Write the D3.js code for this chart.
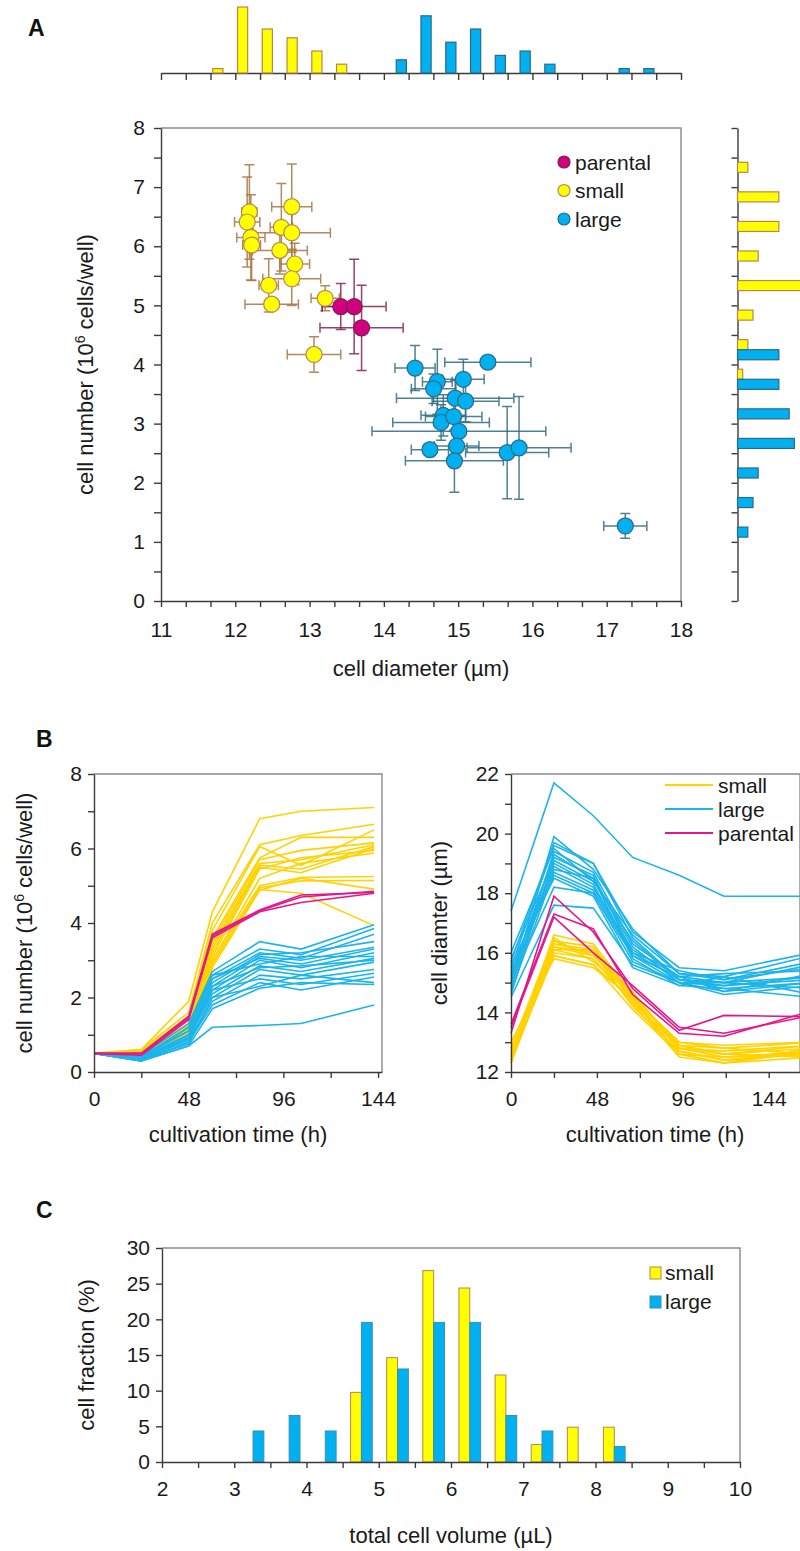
<!DOCTYPE html>
<html>
<head>
<meta charset="utf-8">
<script src="https://cdn.jsdelivr.net/npm/d3@7"></script>
<style>
  body { margin: 0; background: #fff; }
</style>
</head>
<body>
<div id="chart"></div>
<script>
// ---------------- data: panel A scatter (mean +/- sd) ----------------
const parentalDiam    = [13.42, 13.60, 13.70];
const parentalNum     = [4.98, 4.98, 4.62];
const parentalDiamErr = [0.25, 0.43, 0.56];
const parentalNumErr  = [0.39, 0.80, 0.72];

const smallDiam    = [12.19, 12.16, 12.21, 12.22, 12.76, 12.62, 12.76, 12.60, 12.80, 12.76, 12.45, 12.49, 13.21, 13.06];
const smallNum     = [6.58, 6.41, 6.15, 6.02, 6.67, 6.32, 6.23, 5.93, 5.70, 5.45, 5.34, 5.02, 5.12, 4.17];
const smallDiamErr = [0.10, 0.17, 0.19, 0.12, 0.27, 0.15, 0.52, 0.37, 0.20, 0.39, 0.13, 0.36, 0.19, 0.36];
const smallNumErr  = [0.80, 0.76, 0.72, 0.60, 0.72, 0.74, 0.50, 0.40, 0.35, 0.45, 0.45, 0.10, 0.21, 0.30];

const largeDiam    = [14.42, 15.40, 14.72, 14.67, 15.07, 14.96, 15.10, 14.80, 14.77, 14.94, 15.01, 14.62, 14.98, 14.95, 15.66, 15.82, 17.25];
const largeNum     = [3.94, 4.04, 3.71, 3.59, 3.75, 3.43, 3.38, 3.14, 3.02, 3.12, 2.87, 2.56, 2.62, 2.37, 2.51, 2.59, 1.27];
const largeDiamErr = [0.27, 0.58, 0.20, 0.30, 0.28, 0.79, 0.45, 0.30, 0.65, 0.38, 1.17, 0.25, 0.30, 0.66, 0.56, 0.70, 0.29];
const largeNumErr  = [0.38, 0.10, 0.55, 0.25, 0.34, 0.30, 0.35, 0.35, 0.30, 0.25, 0.25, 0.10, 0.30, 0.53, 0.78, 0.87, 0.21];

// marginal histograms (counts); bins are 1/3 um and 0.5 x10^6 cells wide
const smallDiamBins   = [11.667, 12.0, 12.333, 12.667, 13.0, 13.333];
const smallDiamCounts = [1, 15, 10, 8, 5, 2];
const largeDiamBins   = [14.0, 14.333, 14.667, 15.0, 15.333, 15.667, 16.0, 17.0, 17.333];
const largeDiamCounts = [3, 13, 7, 10, 4, 5, 2, 1, 1];

const smallNumBins   = [7.0, 6.5, 6.0, 5.5, 5.0, 4.5, 4.0, 3.5];
const smallNumCounts = [2, 8, 8, 4, 13, 3, 2, 1];
const largeNumBins   = [4.0, 3.5, 3.0, 2.5, 2.0, 1.5, 1.0];
const largeNumCounts = [8, 8, 10, 11, 4, 3, 2];

// ---------------- data: panel B growth curves ----------------
const timeCount = [0, 24, 48, 60, 84, 105, 142];
const smallCount = [
  [0.5, 0.60, 1.90, 4.30, 6.80, 7.00, 7.10],
  [0.5, 0.60, 1.60, 4.00, 6.10, 6.35, 6.65],
  [0.5, 0.55, 1.50, 3.80, 6.05, 5.55, 6.50],
  [0.5, 0.55, 1.40, 3.60, 5.75, 6.30, 6.30],
  [0.5, 0.50, 1.30, 3.50, 5.70, 5.95, 6.15],
  [0.5, 0.50, 1.30, 3.40, 5.60, 5.70, 6.10],
  [0.5, 0.50, 1.20, 3.30, 5.55, 5.45, 6.05],
  [0.5, 0.55, 1.25, 3.20, 5.50, 5.35, 6.00],
  [0.5, 0.50, 1.20, 3.10, 5.45, 5.75, 5.95],
  [0.5, 0.50, 1.15, 3.00, 5.20, 5.60, 5.88],
  [0.5, 0.50, 1.10, 3.00, 5.00, 5.22, 5.25],
  [0.5, 0.45, 1.10, 2.90, 4.95, 5.13, 5.14],
  [0.5, 0.50, 1.00, 2.80, 4.88, 5.20, 4.91],
  [0.5, 0.50, 1.05, 2.90, 4.90, 4.80, 3.93]
];
const largeCount = [
  [0.5, 0.45, 1.30, 2.70, 3.50, 3.30, 3.95],
  [0.5, 0.40, 1.20, 2.60, 3.30, 3.15, 3.85],
  [0.5, 0.45, 1.10, 2.50, 3.20, 3.05, 3.70],
  [0.5, 0.40, 1.00, 2.40, 3.15, 3.20, 3.50],
  [0.5, 0.35, 1.00, 2.30, 3.10, 3.00, 3.35],
  [0.5, 0.40, 1.10, 2.50, 3.05, 2.90, 3.30],
  [0.5, 0.35, 0.90, 2.20, 3.00, 2.80, 3.20],
  [0.5, 0.40, 1.20, 2.60, 2.90, 3.10, 3.10],
  [0.5, 0.35, 0.90, 2.10, 2.85, 2.70, 3.05],
  [0.5, 0.40, 0.95, 2.30, 2.80, 2.85, 3.00],
  [0.5, 0.30, 0.80, 2.00, 2.75, 2.60, 2.95],
  [0.5, 0.35, 0.85, 1.90, 2.60, 2.50, 2.75],
  [0.5, 0.40, 0.90, 2.20, 2.50, 2.35, 2.65],
  [0.5, 0.30, 0.80, 1.80, 2.40, 2.20, 2.55],
  [0.5, 0.35, 0.75, 2.00, 2.30, 2.60, 2.40],
  [0.5, 0.30, 0.70, 1.70, 2.25, 2.40, 2.35],
  [0.5, 0.30, 0.70, 1.20, 1.25, 1.30, 1.80]
];
const parentalCount = [
  [0.5, 0.50, 1.50, 3.70, 4.35, 4.75, 4.82],
  [0.5, 0.45, 1.40, 3.60, 4.30, 4.55, 4.80],
  [0.5, 0.50, 1.45, 3.65, 4.33, 4.70, 4.85]
];

const timeDiam = [0, 24, 46, 68, 94, 119, 168];
const smallDiamLines = [
  [12.4, 16.6, 16.3, 14.6, 12.9, 12.6, 12.9],
  [12.5, 16.4, 16.2, 14.5, 13.0, 12.8, 13.0],
  [12.6, 16.3, 16.0, 14.4, 12.8, 12.5, 12.7],
  [12.3, 16.2, 15.9, 14.7, 12.7, 12.4, 12.6],
  [12.7, 16.1, 16.1, 14.5, 12.6, 12.3, 12.8],
  [12.4, 16.0, 15.8, 14.3, 12.9, 12.6, 12.5],
  [12.8, 16.5, 15.7, 14.6, 12.8, 12.7, 12.9],
  [12.5, 15.9, 15.6, 14.4, 12.6, 12.5, 12.6],
  [12.6, 16.2, 16.0, 14.2, 12.7, 12.4, 12.7],
  [13.0, 15.8, 15.5, 14.5, 13.0, 12.9, 13.0],
  [12.3, 16.1, 15.8, 14.3, 12.5, 12.3, 12.5],
  [12.6, 16.4, 15.9, 14.6, 12.8, 12.6, 12.8],
  [12.5, 16.3, 16.1, 14.5, 12.9, 12.8, 12.6],
  [12.4, 15.9, 15.6, 14.1, 12.6, 12.3, 12.7]
];
const largeDiamLines = [
  [17.4, 21.7, 20.6, 19.2, 18.6, 17.9, 17.9],
  [15.0, 19.9, 18.8, 16.8, 15.3, 15.2, 15.9],
  [15.5, 19.6, 19.0, 16.5, 15.1, 15.0, 15.6],
  [14.8, 19.4, 18.7, 16.3, 15.2, 15.3, 15.4],
  [15.2, 19.3, 18.5, 16.2, 15.0, 14.9, 15.2],
  [14.6, 19.2, 18.6, 16.0, 15.4, 15.1, 15.5],
  [15.8, 19.1, 18.4, 16.4, 15.1, 14.8, 15.0],
  [14.9, 19.0, 18.3, 15.9, 15.0, 15.0, 14.8],
  [15.4, 18.9, 18.2, 16.1, 15.2, 14.7, 15.3],
  [15.1, 18.8, 18.5, 15.8, 14.9, 15.2, 14.6],
  [14.7, 18.7, 18.1, 16.0, 15.1, 14.9, 15.1],
  [15.3, 18.6, 18.0, 15.7, 15.0, 14.6, 14.9],
  [16.0, 19.5, 18.4, 16.6, 15.3, 15.1, 15.7],
  [15.6, 18.5, 17.9, 15.5, 14.9, 14.8, 14.5],
  [14.5, 17.6, 17.5, 15.6, 15.0, 14.7, 15.0],
  [15.0, 18.2, 18.0, 15.9, 15.2, 15.0, 15.2],
  [15.7, 19.7, 19.0, 16.7, 15.5, 15.4, 16.0]
];
const parentalDiamLines = [
  [13.3, 17.9, 16.7, 14.8, 13.4, 13.9, 13.85],
  [13.6, 17.3, 16.8, 14.6, 13.3, 13.2, 14.05],
  [13.5, 17.2, 16.0, 14.9, 13.5, 13.3, 13.9]
];

// ---------------- data: panel C volume distribution (%) ----------------
const volumeBins    = [3.25, 3.75, 4.25, 4.75, 5.25, 5.75, 6.25, 6.75, 7.25, 7.75, 8.25];
const smallFraction = [0, 0, 0, 9.76, 14.63, 26.83, 24.39, 12.20, 2.44, 4.88, 4.88];
const largeFraction = [4.35, 6.52, 4.35, 19.57, 13.04, 19.57, 19.57, 6.52, 4.35, 0, 2.17];

// tick labels
const aXTicks = [11, 12, 13, 14, 15, 16, 17, 18];
const aYTicks = [0, 1, 2, 3, 4, 5, 6, 7, 8];
const bTimeTicks = [0, 48, 96, 144];
const bCountTicks = [0, 2, 4, 6, 8];
const bDiamTicks = [12, 14, 16, 18, 20, 22];
const cXTicks = [2, 3, 4, 5, 6, 7, 8, 9, 10];
const cYTicks = [0, 5, 10, 15, 20, 25, 30];

// ---------------- styling ----------------
const FONT = "'Liberation Sans', Arial, Helvetica, sans-serif";
const AXIS = "#3b3b3b";
const FRAME = "#8a8a8a";
const C_SMALL = "#ffff00", S_SMALL = "#b8864b";
const C_LARGE = "#00b0f0", S_LARGE = "#2a6a86";
const C_PAR = "#d1007f", S_PAR = "#7d1d52";
const L_SMALL = "#ffd200", L_LARGE = "#1cb4ea", L_PAR = "#e3168b";

const svg = d3.select("#chart")
    .append("svg")
    .attr("width", 800)
    .attr("height", 1551)
    .style("font-family", FONT);

function styleAxis(g, size) {
    g.attr("font-family", null).attr("font-size", null);
    g.select(".domain").attr("stroke", AXIS).attr("stroke-width", 1.4);
    g.selectAll(".tick line").attr("stroke", AXIS).attr("stroke-width", 1.4);
    g.selectAll(".tick text").attr("fill", "#1a1a1a")
        .style("font-size", size + "px").style("font-family", FONT);
}
const isLabel = list => d => list.some(v => Math.abs(v - d) < 1e-6) ? d : "";

function frame(x0, x1, y0, y1) {
    svg.append("path")
        .attr("d", `M${x0},${y0}H${x1}V${y1}`)
        .attr("fill", "none").attr("stroke", FRAME).attr("stroke-width", 1.4);
}

function panelLabel(t, x, y) {
    svg.append("text").attr("x", x).attr("y", y).text(t)
        .style("font-size", "23px").style("font-weight", "bold").attr("fill", "#111");
}

function yTitle(x, y, parts) {
    const t = svg.append("text")
        .attr("transform", `translate(${x},${y}) rotate(-90)`)
        .attr("text-anchor", "middle")
        .style("font-size", "22px").attr("fill", "#1a1a1a");
    parts.forEach(p => {
        const s = t.append("tspan").text(p.t);
        if (p.sup) s.style("font-size", "14px").attr("dy", -8);
        if (p.back) s.attr("dy", 8);
    });
}

function xTitle(x, y, txt) {
    svg.append("text").attr("x", x).attr("y", y).attr("text-anchor", "middle")
        .style("font-size", "22px").attr("fill", "#1a1a1a").text(txt);
}

// ================= PANEL A =================
panelLabel("A", 28, 36);

const xA = d3.scaleLinear().domain([11, 18]).range([161, 681]);
const yA = d3.scaleLinear().domain([0, 8]).range([601, 128]);

frame(xA(11), xA(18), yA(8), yA(0));

const thirdTicks = d3.range(0, 22).map(i => 11 + i / 3);
const halfTicks = d3.range(0, 17).map(i => i / 2);

svg.append("g").attr("transform", `translate(0,${yA(0)})`)
    .call(d3.axisBottom(xA).tickValues(thirdTicks).tickFormat(isLabel(aXTicks))
        .tickSize(6).tickSizeOuter(0).tickPadding(15))
    .call(g => styleAxis(g, 21));

svg.append("g").attr("transform", `translate(${xA(11)},0)`)
    .call(d3.axisLeft(yA).tickValues(halfTicks).tickFormat(isLabel(aYTicks))
        .tickSize(7).tickSizeOuter(0).tickPadding(9))
    .call(g => styleAxis(g, 21));

yTitle(93, (yA(0) + yA(8)) / 2, [
    { t: "cell number (10" }, { t: "6", sup: true }, { t: " cells/well)", back: true }
]);
xTitle((xA(11) + xA(18)) / 2, 676, "cell diameter (µm)");

// top marginal histogram
const binW = 1 / 3;
const yTop = d3.scaleLinear().domain([0, 15]).range([73, 7]);
svg.append("g").attr("transform", `translate(0,${yTop(0)})`)
    .call(d3.axisBottom(xA).tickValues(thirdTicks).tickFormat("").tickSize(7).tickSizeOuter(0))
    .call(g => styleAxis(g, 21));

function topBars(bins, counts, off, fill, stroke) {
    svg.append("g").selectAll("rect")
        .data(bins.map((b, i) => ({ b, c: counts[i] })))
        .join("rect")
        .attr("x", d => xA(d.b + off * binW))
        .attr("width", xA(11 + 0.41 * binW) - xA(11))
        .attr("y", d => yTop(d.c))
        .attr("height", d => yTop(0) - yTop(d.c))
        .attr("fill", fill).attr("stroke", stroke).attr("stroke-width", 1.2);
}
topBars(smallDiamBins, smallDiamCounts, 0.09, C_SMALL, S_SMALL);
topBars(largeDiamBins, largeDiamCounts, 0.50, C_LARGE, S_LARGE);

// right marginal histogram
const xRight = d3.scaleLinear().domain([0, 10]).range([737.5, 789.2]);
svg.append("g").attr("transform", `translate(${xRight(0)},0)`)
    .call(d3.axisLeft(yA).tickValues(halfTicks).tickFormat("").tickSize(6).tickSizeOuter(0))
    .call(g => styleAxis(g, 21));

function rightBars(bins, counts, off, fill, stroke) {
    const h = yA(0) - yA(0.5);
    svg.append("g").selectAll("rect")
        .data(bins.map((b, i) => ({ b, c: counts[i] })))
        .join("rect")
        .attr("x", xRight(0))
        .attr("y", d => yA(d.b + 0.5) + off * h)
        .attr("height", 0.34 * h)
        .attr("width", d => xRight(d.c) - xRight(0))
        .attr("fill", fill).attr("stroke", stroke).attr("stroke-width", 1.2);
}
rightBars(smallNumBins, smallNumCounts, 0.16, C_SMALL, S_SMALL);
rightBars(largeNumBins, largeNumCounts, 0.50, C_LARGE, S_LARGE);

// scatter with error bars
const groups = [
    { x: smallDiam, y: smallNum, ex: smallDiamErr, ey: smallNumErr, fill: C_SMALL, stroke: S_SMALL, err: "#a87442" },
    { x: largeDiam, y: largeNum, ex: largeDiamErr, ey: largeNumErr, fill: C_LARGE, stroke: S_LARGE, err: "#2f6b80" },
    { x: parentalDiam, y: parentalNum, ex: parentalDiamErr, ey: parentalNumErr, fill: C_PAR, stroke: S_PAR, err: "#82224f" }
];
const cap = 5;
groups.forEach(gr => {
    const pts = gr.x.map((x, i) => ({ x, y: gr.y[i], ex: gr.ex[i], ey: gr.ey[i] }));
    const eg = svg.append("g").attr("stroke", gr.err).attr("stroke-width", 1.5)
        .attr("fill", "none").attr("stroke-opacity", 0.85);
    eg.selectAll("path").data(pts).join("path")
        .attr("d", d => {
            const cx = xA(d.x), cy = yA(d.y);
            const x0 = xA(d.x - d.ex), x1 = xA(d.x + d.ex);
            const y0 = yA(d.y - d.ey), y1 = yA(d.y + d.ey);
            return `M${x0},${cy}H${x1}M${x0},${cy - cap}V${cy + cap}M${x1},${cy - cap}V${cy + cap}` +
                   `M${cx},${y0}V${y1}M${cx - cap},${y0}H${cx + cap}M${cx - cap},${y1}H${cx + cap}`;
        });
});
groups.forEach(gr => {
    svg.append("g").selectAll("circle")
        .data(gr.x.map((x, i) => ({ x, y: gr.y[i] })))
        .join("circle")
        .attr("cx", d => xA(d.x)).attr("cy", d => yA(d.y)).attr("r", 8)
        .attr("fill", gr.fill).attr("stroke", gr.stroke).attr("stroke-width", 1.2);
});

// legend A
const legA = [
    { t: "parental", fill: C_PAR, stroke: S_PAR },
    { t: "small", fill: C_SMALL, stroke: S_SMALL },
    { t: "large", fill: C_LARGE, stroke: S_LARGE }
];
legA.forEach((d, i) => {
    const y = 162 + i * 28.5;
    svg.append("circle").attr("cx", 564).attr("cy", y).attr("r", 6)
        .attr("fill", d.fill).attr("stroke", d.stroke).attr("stroke-width", 1.2);
    svg.append("text").attr("x", 575).attr("y", y + 7.5).text(d.t)
        .style("font-size", "21px").attr("fill", "#1a1a1a");
});

// ================= PANEL B =================
panelLabel("B", 36, 747);

const yB1 = d3.scaleLinear().domain([0, 8]).range([1072, 774]);
const yB2 = d3.scaleLinear().domain([12, 22]).range([1072, 774]);
const xB1 = d3.scaleLinear().domain([0, 146]).range([94, 382]);
const xB2 = d3.scaleLinear().domain([0, 161.5]).range([511, 800]);

frame(xB1(0), xB1(146), yB1(8), yB1(0));
frame(xB2(0), xB2(161.5), yB2(22), yB2(12));

function lines(xs, ys, times, data, color) {
    const line = d3.line().x((d, i) => xs(times[i])).y(d => ys(d));
    svg.append("g").selectAll("path").data(data).join("path")
        .attr("d", line).attr("fill", "none")
        .attr("stroke", color).attr("stroke-width", 1.6);
}
lines(xB1, yB1, timeCount, smallCount, L_SMALL);
lines(xB1, yB1, timeCount, largeCount, L_LARGE);
lines(xB1, yB1, timeCount, parentalCount, L_PAR);
lines(xB2, yB2, timeDiam, smallDiamLines, L_SMALL);
lines(xB2, yB2, timeDiam, largeDiamLines, L_LARGE);
lines(xB2, yB2, timeDiam, parentalDiamLines, L_PAR);

const dayTicks = [0, 24, 48, 72, 96, 120, 144];
svg.append("g").attr("transform", `translate(0,${yB1(0)})`)
    .call(d3.axisBottom(xB1).tickValues(dayTicks).tickFormat(isLabel(bTimeTicks))
        .tickSize(6).tickSizeOuter(0).tickPadding(13))
    .call(g => styleAxis(g, 21));
svg.append("g").attr("transform", `translate(${xB1(0)},0)`)
    .call(d3.axisLeft(yB1).tickValues(d3.range(0, 9)).tickFormat(isLabel(bCountTicks))
        .tickSize(6).tickSizeOuter(0).tickPadding(6))
    .call(g => styleAxis(g, 21));

svg.append("g").attr("transform", `translate(0,${yB2(12)})`)
    .call(d3.axisBottom(xB2).tickValues(dayTicks).tickFormat(isLabel(bTimeTicks))
        .tickSize(6).tickSizeOuter(0).tickPadding(13))
    .call(g => styleAxis(g, 21));
svg.append("g").attr("transform", `translate(${xB2(0)},0)`)
    .call(d3.axisLeft(yB2).tickValues(d3.range(12, 23)).tickFormat(isLabel(bDiamTicks))
        .tickSize(6).tickSizeOuter(0).tickPadding(6))
    .call(g => styleAxis(g, 21));

yTitle(32, (yB1(0) + yB1(8)) / 2, [
    { t: "cell number (10" }, { t: "6", sup: true }, { t: " cells/well)", back: true }
]);
yTitle(447, (yB2(12) + yB2(22)) / 2, [{ t: "cell diamter (µm)" }]);
xTitle((xB1(0) + xB1(146)) / 2, 1142, "cultivation time (h)");
xTitle(655, 1142, "cultivation time (h)");

// legend B
const legB = [
    { t: "small", c: L_SMALL }, { t: "large", c: L_LARGE }, { t: "parental", c: L_PAR }
];
legB.forEach((d, i) => {
    const y = 785 + i * 24;
    svg.append("line").attr("x1", 665).attr("x2", 713).attr("y1", y).attr("y2", y)
        .attr("stroke", d.c).attr("stroke-width", 1.8);
    svg.append("text").attr("x", 718).attr("y", y + 7.5).text(d.t)
        .style("font-size", "21px").attr("fill", "#1a1a1a");
});

// ================= PANEL C =================
panelLabel("C", 36, 1218);

const xC = d3.scaleLinear().domain([2, 10]).range([162, 740]);
const yC = d3.scaleLinear().domain([0, 30]).range([1462, 1248]);

frame(xC(2), xC(10), yC(30), yC(0));

function cBars(vals, off, fill, stroke) {
    svg.append("g").selectAll("rect")
        .data(volumeBins.map((b, i) => ({ b, v: vals[i] })).filter(d => d.v > 0))
        .join("rect")
        .attr("x", d => xC(d.b + off))
        .attr("width", xC(2.15) - xC(2))
        .attr("y", d => yC(d.v))
        .attr("height", d => yC(0) - yC(d.v))
        .attr("fill", fill).attr("stroke", stroke).attr("stroke-width", 1);
}
cBars(smallFraction, -0.14, C_SMALL, S_SMALL);
cBars(largeFraction, 0.01, C_LARGE, "#3a8fb0");

svg.append("g").attr("transform", `translate(0,${yC(0)})`)
    .call(d3.axisBottom(xC).tickValues(d3.range(0, 17).map(i => 2 + i / 2)).tickFormat(isLabel(cXTicks))
        .tickSize(6).tickSizeOuter(0).tickPadding(13))
    .call(g => styleAxis(g, 21));
svg.append("g").attr("transform", `translate(${xC(2)},0)`)
    .call(d3.axisLeft(yC).tickValues(cYTicks).tickSize(6).tickSizeOuter(0).tickPadding(6))
    .call(g => styleAxis(g, 21));

yTitle(94, (yC(0) + yC(30)) / 2, [{ t: "cell fraction (%)" }]);
xTitle((xC(2) + xC(10)) / 2, 1543, "total cell volume (µL)");

[{ t: "small", f: C_SMALL, s: S_SMALL }, { t: "large", f: C_LARGE, s: "#3a8fb0" }].forEach((d, i) => {
    const y = 1267 + i * 29;
    svg.append("rect").attr("x", 650).attr("y", y).attr("width", 11).attr("height", 12)
        .attr("fill", d.f).attr("stroke", d.s).attr("stroke-width", 1);
    svg.append("text").attr("x", 665).attr("y", y + 13).text(d.t)
        .style("font-size", "21px").attr("fill", "#1a1a1a");
});
</script>
</body>
</html>
